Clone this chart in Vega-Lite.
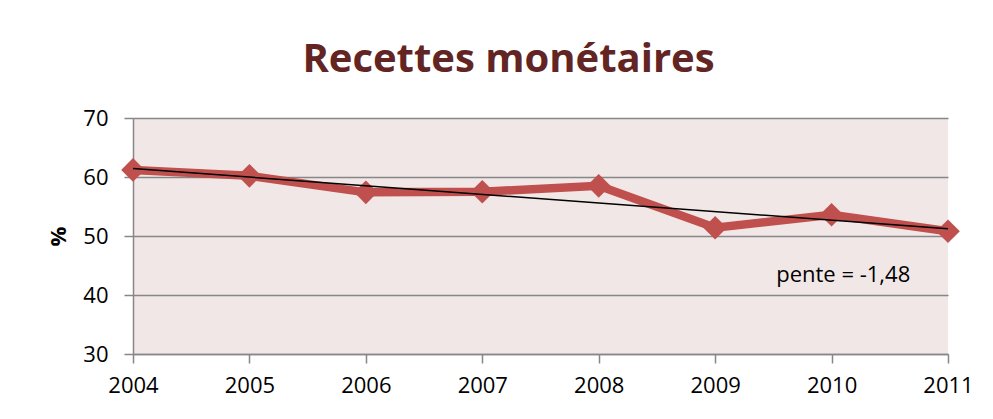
{
  "$schema": "https://vega.github.io/schema/vega-lite/v6.json",
  "autosize": {"type": "none"},
  "width": 815,
  "height": 236,
  "padding": {"left": 133, "top": 118, "right": 45, "bottom": 65},
  "background": "white",
  "title": {
    "text": "Recettes monétaires",
    "font": "Open Sans",
    "fontSize": 40,
    "fontWeight": "bold",
    "color": "#632523",
    "anchor": "middle",
    "frame": "group",
    "dx": -32,
    "offset": 27
  },
  "datasets": {
    "recettes": [
      {"annee": 2004, "valeur": 61.2},
      {"annee": 2005, "valeur": 60.2},
      {"annee": 2006, "valeur": 57.4},
      {"annee": 2007, "valeur": 57.5},
      {"annee": 2008, "valeur": 58.5},
      {"annee": 2009, "valeur": 51.4},
      {"annee": 2010, "valeur": 53.6},
      {"annee": 2011, "valeur": 50.8}
    ],
    "annotation": [
      {"annee": 2010.1, "valeur": 43.4, "label": "pente = -1,48"}
    ]
  },
  "config": {
    "view": {"fill": "#f2e7e7", "stroke": null},
    "axis": {
      "labelFont": "Open Sans",
      "labelFontSize": 22,
      "labelColor": "#000000",
      "domainColor": "#878787",
      "tickColor": "#878787",
      "gridColor": "#878787",
      "domainWidth": 1.5,
      "tickWidth": 1.5,
      "gridWidth": 1.5,
      "tickSize": 9
    }
  },
  "layer": [
    {
      "data": {"name": "recettes"},
      "mark": {
        "type": "line",
        "color": "#c0504d",
        "strokeWidth": 8.5,
        "point": {"shape": "diamond", "size": 560, "filled": true, "color": "#c0504d", "opacity": 1}
      },
      "encoding": {
        "x": {
          "field": "annee",
          "type": "quantitative",
          "scale": {"domain": [2004, 2011], "nice": false, "zero": false},
          "axis": {
            "values": [2004, 2005, 2006, 2007, 2008, 2009, 2010, 2011],
            "format": "d",
            "grid": false,
            "title": null,
            "labelPadding": 12,
            "labelFlush": false
          }
        },
        "y": {
          "field": "valeur",
          "type": "quantitative",
          "scale": {"domain": [30, 70], "nice": false, "zero": false},
          "axis": {
            "values": [30, 40, 50, 60, 70],
            "grid": true,
            "title": "%",
            "titleFont": "Open Sans",
            "titleFontSize": 22,
            "titleFontWeight": "bold",
            "titleColor": "#000000",
            "titlePadding": 12,
            "labelPadding": 16
          }
        }
      }
    },
    {
      "data": {"name": "recettes"},
      "transform": [{"regression": "valeur", "on": "annee", "extent": [2004, 2011]}],
      "mark": {"type": "line", "color": "#000000", "strokeWidth": 1.5},
      "encoding": {
        "x": {"field": "annee", "type": "quantitative"},
        "y": {"field": "valeur", "type": "quantitative"}
      }
    },
    {
      "data": {"name": "annotation"},
      "mark": {"type": "text", "font": "Open Sans", "fontSize": 22, "color": "#000000", "align": "center", "baseline": "middle"},
      "encoding": {
        "x": {"field": "annee", "type": "quantitative"},
        "y": {"field": "valeur", "type": "quantitative"},
        "text": {"field": "label"}
      }
    }
  ]
}
